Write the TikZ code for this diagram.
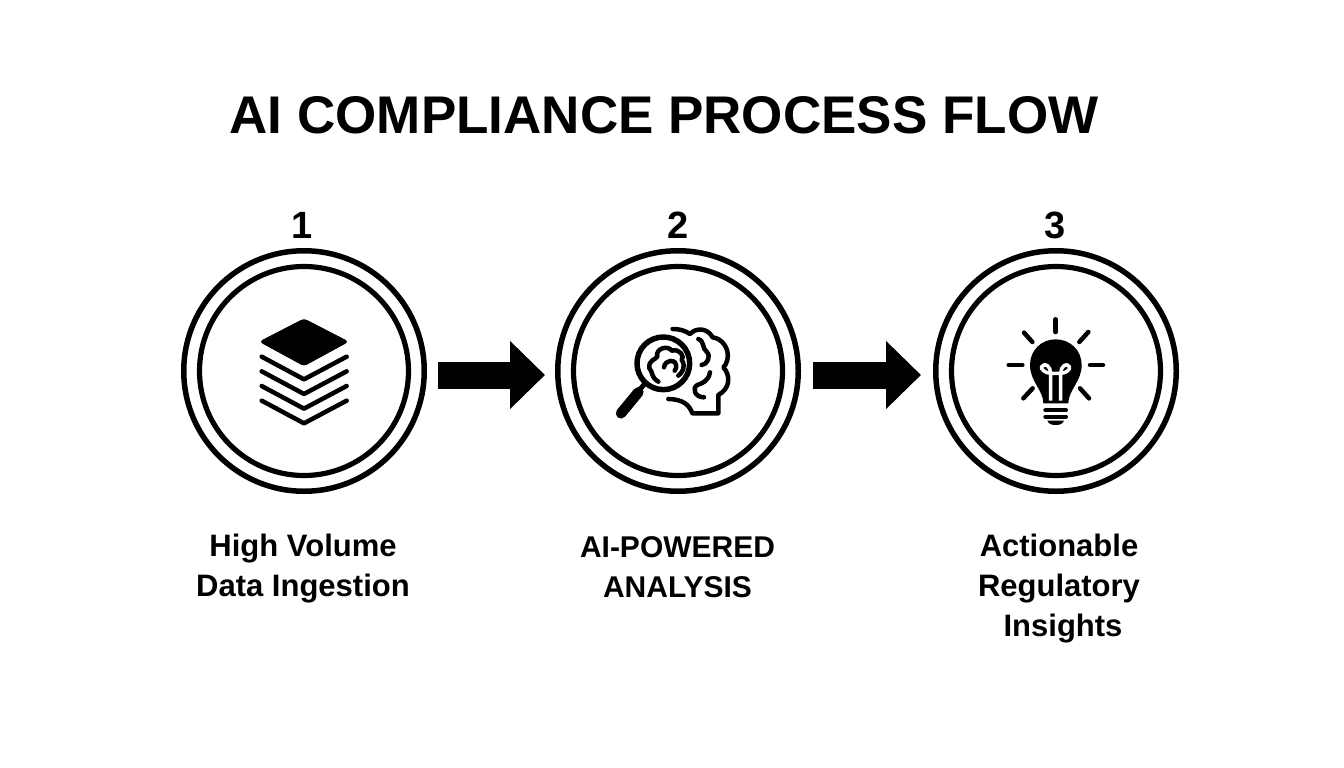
\documentclass[tikz,border=0pt]{standalone}
\usepackage{fontspec}
\setmainfont{Liberation Sans}
\usetikzlibrary{arrows.meta}
\tikzset{
  ring/.style={circle,draw=black,line width=5.5pt,minimum size=240.5pt,inner sep=0pt},
  inring/.style={circle,draw=black,line width=5.2pt,minimum size=209pt,inner sep=0pt},
  flow/.style={line width=27pt,black,-{Triangle[length=35pt,width=66pt]}},
  titletext/.style={font=\bfseries\fontsize{53}{53}\selectfont,inner sep=0pt},
  numtext/.style={font=\bfseries\fontsize{38}{38}\selectfont,inner sep=0pt},
  labeltext/.style={font=\bfseries\fontsize{31}{40}\selectfont,align=center,inner sep=0pt},
  ic/.style={line width=5pt,line cap=round,line join=round,black},
  icthin/.style={line width=4.5pt,line cap=round,line join=round,black},
}
\begin{document}
\begin{tikzpicture}[x=1pt,y=-1pt]
\useasboundingbox[fill=white] (0,0) rectangle (1344,768);
\node[titletext] (title) at (664,115) {AI COMPLIANCE PROCESS FLOW};
\node[numtext] (n1) at (302,225) {1};
\node[numtext] (n2) at (678,225) {2};
\node[numtext] (n3) at (1055,225) {3};
\node[ring] (c1) at (304,371) {};
\node[inring] (i1) at (304,371) {};
\node[ring] (c2) at (678,371) {};
\node[inring] (i2) at (678,371) {};
\node[ring] (c3) at (1056,371) {};
\node[inring] (i3) at (1056,371) {};
\draw[flow,shorten <=11pt,shorten >=10pt] ([yshift=-4pt]c1.east) -- ([yshift=-4pt]c2.west);
\draw[flow,shorten <=12pt,shorten >=12pt] ([yshift=-4pt]c2.east) -- ([yshift=-4pt]c3.west);
\node[labeltext] (l1) at (303,569) {High Volume\\Data Ingestion};
\node[labeltext,font=\bfseries\fontsize{30}{40}\selectfont] (l2) at (677.5,567) {AI-POWERED\\ANALYSIS};
\node[labeltext,anchor=north] (l3) at (1059,534) {Actionable\\Regulatory\\\hspace{8pt}Insights};
% stack icon
\begin{scope}[shift={(230,300)},x=0.3333pt,y=-0.3333pt]
  \fill[black,rounded corners=3pt,draw=black,line width=1pt,line join=round] (222,57) -- (354,125) -- (222,197) -- (90,125) -- cycle;
  \foreach \d in {0,44,88,132} {
    \draw[ic,line width=4.5pt] (95,170+\d) -- (222,238+\d) -- (350,170+\d);
  }
\end{scope}
% magnifier and brain icon
\begin{scope}[shift={(600,310)},x=0.3333pt,y=-0.3333pt]
  \draw[ic,line width=5.5pt] (190,160) circle (79);
  \draw[ic] (132,224) -- (118,240);
  \draw[black,line width=10.5pt,line cap=round] (115,247) -- (63,310);
  \draw[icthin] (218,57) .. controls (240,57) and (255,62) .. (270,72) .. controls (285,55) and (320,50) .. (338,82) .. controls (365,85) and (390,115) .. (382,150) .. controls (380,160) and (375,168) .. (370,172) .. controls (392,195) and (392,235) .. (355,255) -- (355,310) -- (277,310) .. controls (268,285) and (250,268) .. (205,267);
  \draw[icthin] (295,87) .. controls (315,95) and (305,115) .. (320,125) .. controls (335,140) and (320,165) .. (305,165);
  \draw[icthin] (330,187) .. controls (325,215) and (305,220) .. (292,225) .. controls (275,235) and (285,262) .. (312,262);
  \draw[icthin] (175,215) .. controls (150,200) and (160,185) .. (148,175) .. controls (145,150) and (165,150) .. (172,140) .. controls (165,115) and (205,105) .. (215,122) .. controls (240,115) and (255,140) .. (245,150) .. controls (260,170) and (245,190) .. (235,197);
  \draw[icthin] (192,172) .. controls (195,150) and (225,145) .. (228,165) .. controls (230,170) and (228,178) .. (224,182);
\end{scope}
% light bulb icon
\begin{scope}[shift={(990,310)},x=0.3333pt,y=-0.3333pt]
  \fill[black] (160,280) .. controls (160,240) and (120,215) .. (120,165) .. controls (120,120) and (155,88) .. (197,88) .. controls (240,88) and (275,120) .. (275,165) .. controls (275,215) and (235,240) .. (235,280) -- cycle;
  \draw[white,line width=3.5pt,line join=round] (182,272) -- (182,190) .. controls (165,190) and (150,175) .. (155,170) .. controls (165,155) and (182,170) .. (182,190) -- (212,190) .. controls (212,170) and (230,155) .. (238,170) .. controls (242,178) and (228,190) .. (212,190) -- (212,272);
  \draw[ic,line width=4.5pt] (197,28) -- (197,66);
  \draw[ic,line width=4.5pt] (102,68) -- (127,96);
  \draw[ic,line width=4.5pt] (295,66) -- (268,96);
  \draw[ic,line width=4.5pt] (56,165) -- (97,165);
  \draw[ic,line width=4.5pt] (300,165) -- (339,165);
  \draw[ic,line width=4.5pt] (100,265) -- (128,235);
  \draw[ic,line width=4.5pt] (297,265) -- (270,235);
  \draw[ic,line width=4pt] (166,301) -- (228,301);
  \draw[ic,line width=4pt] (166,320) -- (228,320);
  \fill[black] (172,332) -- (222,332) .. controls (218,342) and (210,345) .. (197,345) .. controls (184,345) and (176,342) .. (172,332) -- cycle;
\end{scope}
\end{tikzpicture}
\end{document}
